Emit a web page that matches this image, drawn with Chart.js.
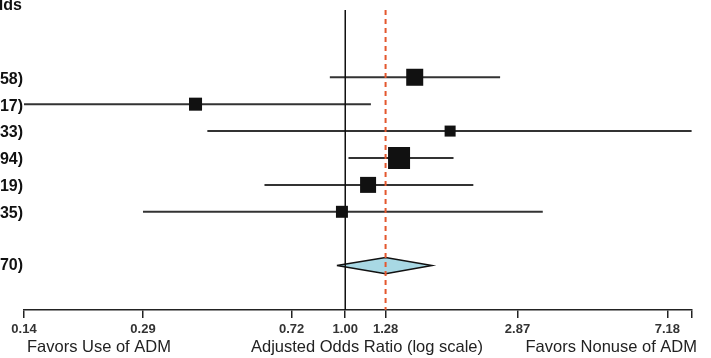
<!DOCTYPE html>
<html>
<head>
<meta charset="utf-8">
<script src="https://cdn.jsdelivr.net/npm/chart.js@4.4.0/dist/chart.umd.min.js"></script>
<style>
  html, body { margin: 0; padding: 0; background: #fff; }
  #wrap { width: 711px; height: 358px; }
</style>
</head>
<body>
<div id="wrap"><canvas id="forest"></canvas></div>
<script>
// study estimates (adjusted odds ratios) and their 95% CIs
const oddsRatios = [1.53, 0.40, 1.90, 1.39, 1.15, 0.98];
const lowerCI = [0.91, 0.10, 0.43, 1.02, 0.61, 0.29];
const upperCI = [2.58, 1.17, 8.33, 1.94, 2.19, 3.35];
const weights = [19.8, 11.6, 8.3, 33.1, 17.5, 9.8]; // percent weight
const pooled = [1.28, 0.95, 1.70]; // estimate, lower, upper
const tickValues = [0.14, 0.29, 0.72, 1.00, 1.28, 2.87, 7.18];
const axisMin = 0.14;
const axisMax = 8.35;
const headerText = 'Odds';
const bottomLabels = ['Favors Use of ADM', 'Adjusted Odds Ratio (log scale)', 'Favors Nonuse of ADM'];

const rowY = oddsRatios.map((v, i) => i + 1);
const pooledRow = 8;
const yMin = -1.5, yMax = 9.65;

const ciSets = oddsRatios.map((v, i) => ({
    data: [{ x: lowerCI[i], y: rowY[i] }, { x: upperCI[i], y: rowY[i] }],
    showLine: true, borderColor: '#333', borderWidth: 2, pointRadius: 0, order: 4
}));

const dh = 0.3;
const diamond = {
    data: [
        { x: pooled[1], y: pooledRow }, { x: pooled[0], y: pooledRow - dh },
        { x: pooled[2], y: pooledRow }, { x: pooled[0], y: pooledRow + dh },
        { x: pooled[1], y: pooledRow }
    ],
    showLine: true, fill: 'shape', backgroundColor: '#a8d8e4',
    borderColor: '#111', borderWidth: 1.5, pointRadius: 0, order: 3
};

const nullLine = {
    data: [{ x: 1, y: yMin }, { x: 1, y: yMax }],
    showLine: true, borderColor: '#111', borderWidth: 1.5, pointRadius: 0, order: 2
};

const pooledLine = {
    data: [{ x: pooled[0], y: yMin }, { x: pooled[0], y: yMax }],
    showLine: true, borderColor: '#e4572e', borderWidth: 2, borderDash: [5, 4],
    pointRadius: 0, order: 1
};

const squares = {
    data: oddsRatios.map((v, i) => ({ x: v, y: rowY[i] })),
    pointStyle: 'rect',
    pointRadius: weights.map(w => Math.sqrt(w * 14.63) / Math.SQRT2),
    backgroundColor: '#111', borderColor: '#111', borderWidth: 0, order: 0
};

const textPlugin = {
    id: 'forestText',
    afterDraw(chart) {
        const ctx = chart.ctx;
        const yScale = chart.scales.y;
        ctx.save();
        ctx.fillStyle = '#111';
        ctx.textBaseline = 'middle';
        ctx.textAlign = 'right';
        ctx.font = 'bold 16px "Liberation Sans", Arial, sans-serif';
        ctx.fillText(headerText, 22, 6);
        upperCI.forEach((hi, i) => {
            ctx.fillText(hi.toFixed(2) + ')', 23, yScale.getPixelForValue(rowY[i]) + 2);
        });
        ctx.fillText(pooled[2].toFixed(2) + ')', 23, yScale.getPixelForValue(pooledRow));
        ctx.font = '16.5px "Liberation Sans", Arial, sans-serif';
        ctx.fillStyle = '#222';
        const by = 347;
        ctx.textAlign = 'left';
        ctx.fillText(bottomLabels[0], 27, by);
        ctx.textAlign = 'center';
        ctx.fillText(bottomLabels[1], 367, by);
        ctx.textAlign = 'right';
        ctx.fillText(bottomLabels[2], 697, by);
        ctx.restore();
    }
};

new Chart(document.getElementById('forest'), {
    type: 'scatter',
    data: { datasets: [...ciSets, diamond, nullLine, pooledLine, squares] },
    options: {
        responsive: true,
        maintainAspectRatio: false,
        animation: false,
        events: [],
        layout: { autoPadding: false, padding: { left: 24, right: 19, top: 10, bottom: 0 } },
        plugins: { legend: { display: false }, tooltip: { enabled: false } },
        scales: {
            x: {
                type: 'logarithmic',
                min: axisMin,
                max: axisMax,
                afterBuildTicks: (scale) => {
                    scale.ticks = [...tickValues, axisMax].map(v => ({ value: v }));
                },
                afterFit: (scale) => { scale.height = 48; },
                ticks: {
                    autoSkip: false,
                    maxRotation: 0,
                    padding: 4,
                    color: '#333',
                    font: { family: '"Liberation Sans", Arial, sans-serif', size: 13, weight: 'bold' },
                    callback: (v) => (v === axisMax ? '' : Number(v).toFixed(2))
                },
                grid: { drawOnChartArea: false, drawTicks: true, tickLength: 8, color: '#222', lineWidth: 1.5 },
                border: { display: true, color: '#222', width: 1.5 }
            },
            y: {
                type: 'linear',
                min: yMin,
                max: yMax,
                reverse: true,
                display: false
            }
        }
    },
    plugins: [textPlugin]
});
</script>
</body>
</html>
